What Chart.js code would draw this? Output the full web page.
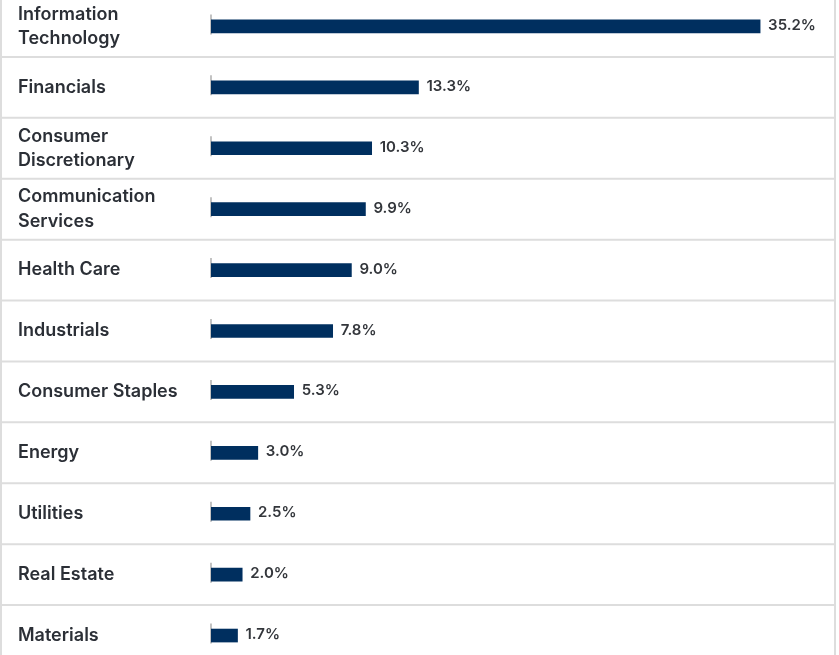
<!DOCTYPE html>
<html>
<head>
<meta charset="utf-8">
<script src="https://cdn.jsdelivr.net/npm/chart.js@4/dist/chart.umd.min.js"></script>
<style>
  html, body { margin: 0; padding: 0; background: #ffffff; overflow: hidden; width: 839px; height: 655px; }
  #wrap { position: absolute; left: 0; top: -4px; width: 839px; height: 670px; }
</style>
</head>
<body>
<div id="wrap"><canvas id="c"></canvas></div>
<script>
const categories = [
  ["Information", "Technology"],
  "Financials",
  ["Consumer", "Discretionary"],
  ["Communication", "Services"],
  "Health Care",
  "Industrials",
  "Consumer Staples",
  "Energy",
  "Utilities",
  "Real Estate",
  "Materials"
];
const weights = [35.2, 13.3, 10.3, 9.9, 9.0, 7.8, 5.3, 3.0, 2.5, 2.0, 1.7];
const valueLabels = ["35.2%", "13.3%", "10.3%", "9.9%", "9.0%", "7.8%", "5.3%", "3.0%", "2.5%", "2.0%", "1.7%"];

const decor = {
  id: 'decor',
  beforeDatasetsDraw(chart) {
    const ctx = chart.ctx;
    const y = chart.scales.y;
    const x = chart.scales.x;
    const right = chart.chartArea.right;
    ctx.save();
    ctx.strokeStyle = '#dddddd';
    ctx.lineWidth = 2;
    for (let i = 0; i < categories.length - 1; i++) {
      const p = (y.getPixelForValue(i) + y.getPixelForValue(i + 1)) / 2;
      ctx.beginPath();
      ctx.moveTo(0, p);
      ctx.lineTo(right, p);
      ctx.stroke();
    }
    ctx.beginPath();
    ctx.moveTo(1, 0); ctx.lineTo(1, chart.height);
    ctx.moveTo(right, 0); ctx.lineTo(right, chart.height);
    ctx.stroke();
    ctx.strokeStyle = '#9a9a9a';
    ctx.lineWidth = 1.2;
    const x0 = x.getPixelForValue(0);
    for (let i = 0; i < categories.length; i++) {
      const p = y.getPixelForValue(i) - 2;
      ctx.beginPath();
      ctx.moveTo(x0, p - 10);
      ctx.lineTo(x0, p + 10);
      ctx.stroke();
    }
    ctx.restore();
  },
  afterDatasetsDraw(chart) {
    const ctx = chart.ctx;
    const meta = chart.getDatasetMeta(0);
    ctx.save();
    ctx.font = '600 15px Inter, "Noto Sans", sans-serif';
    ctx.fillStyle = '#33363b';
    ctx.textAlign = 'left';
    ctx.textBaseline = 'middle';
    meta.data.forEach((bar, i) => {
      ctx.fillText(valueLabels[i], bar.x + 8, bar.y - 1);
    });
    ctx.restore();
  }
};

new Chart(document.getElementById('c'), {
  type: 'bar',
  data: {
    labels: categories,
    datasets: [{
      data: weights,
      backgroundColor: '#002f5f',
      borderWidth: 0,
      barThickness: 13
    }]
  },
  options: {
    indexAxis: 'y',
    responsive: true,
    maintainAspectRatio: false,
    animation: false,
    layout: { padding: { left: 18, right: 4, top: 0, bottom: 0 } },
    plugins: { legend: { display: false }, tooltip: { enabled: false } },
    scales: {
      x: {
        display: false,
        min: 0,
        max: 40
      },
      y: {
        offset: true,
        grid: { display: false },
        border: { display: false },
        afterFit(scale) {
          scale.width = 193;
          scale.paddingTop = 0;
          scale.paddingBottom = 0;
        },
        ticks: {
          crossAlign: 'far',
          color: '#2b2f36',
          padding: 0,
          font: { family: 'Inter, "Noto Sans", sans-serif', size: 18, weight: '600', lineHeight: 1.35 }
        }
      }
    }
  },
  plugins: [decor]
});
</script>
</body>
</html>
